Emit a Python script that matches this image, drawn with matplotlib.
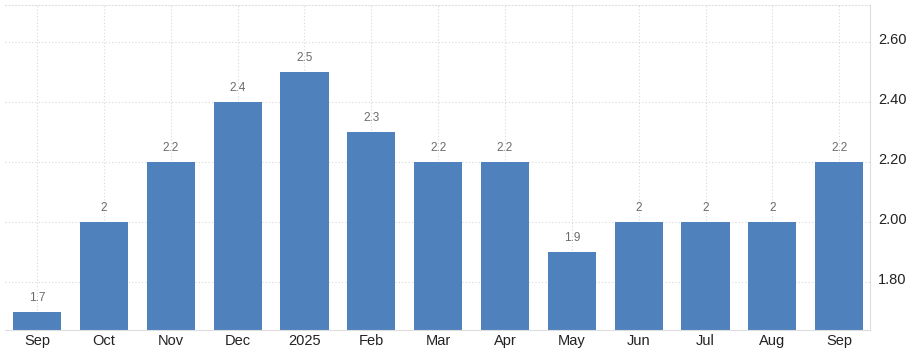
import matplotlib
matplotlib.use("Agg")
import matplotlib.pyplot as plt
from matplotlib.ticker import FormatStrFormatter
import matplotlib.transforms as mtransforms

categories = ["Sep", "Oct", "Nov", "Dec", "2025", "Feb", "Mar", "Apr", "May", "Jun", "Jul", "Aug", "Sep"]
values = [1.7, 2.0, 2.2, 2.4, 2.5, 2.3, 2.2, 2.2, 1.9, 2.0, 2.0, 2.0, 2.2]
yticks = [1.80, 2.00, 2.20, 2.40, 2.60]

plt.rcParams['font.family'] = ['Liberation Sans', 'DejaVu Sans']

fig = plt.figure(figsize=(9.14, 3.58), dpi=100)
ax = fig.add_axes([5/914, 28/358, 865/914, 325/358])

x = list(range(len(categories)))
bars = ax.bar(x, values, width=0.72, color="#4f81bd", zorder=2)
for xi, v in zip(x, values):
    lbl = f"{v:g}"
    ax.text(xi, v + 0.025, lbl, ha="center", va="bottom", fontsize=8.5, color="#6b6b6b")

ax.set_xlim(-0.48, 12.46)
ax.set_ylim(1.64, 2.723)
ax.set_xticks(x)
ax.set_xticklabels(categories, fontsize=10.5, color="#222222")
ax.set_yticks(yticks)
ax.yaxis.set_major_formatter(FormatStrFormatter("%.2f"))
ax.yaxis.tick_right()
ax.tick_params(axis="y", labelsize=10.5, labelcolor="#222222", length=0, pad=6)
ax.tick_params(axis="x", length=0, pad=3)
offset = mtransforms.ScaledTranslation(0, 3/100, fig.dpi_scale_trans)
for lab in ax.get_yticklabels():
    lab.set_transform(lab.get_transform() + offset)

ax.grid(True, axis="both", linestyle=(0, (1, 2)), color="#d8d8d8", linewidth=0.8, zorder=0)
ax.set_axisbelow(True)
ax.spines["left"].set_visible(False)
ax.spines["top"].set_color("#e0e0e0")
ax.spines["top"].set_linestyle((0, (1, 2)))
ax.spines["right"].set_color("#dddddd")
ax.spines["bottom"].set_color("#dddddd")

fig.savefig("out.png", dpi=100)
